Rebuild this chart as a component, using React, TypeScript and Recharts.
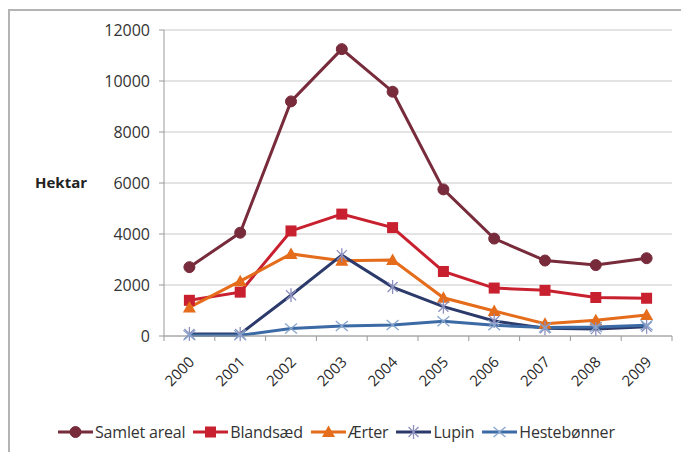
import React from 'react';
import {
  LineChart,
  Line,
  XAxis,
  YAxis,
  CartesianGrid,
  Legend,
} from 'recharts';

const years = ['2000', '2001', '2002', '2003', '2004', '2005', '2006', '2007', '2008', '2009'];
const samletAreal = [2700, 4050, 9200, 11250, 9580, 5750, 3820, 2960, 2780, 3050];
const blandsaed = [1400, 1720, 4120, 4780, 4250, 2530, 1880, 1790, 1510, 1480];
const aerter = [1120, 2150, 3220, 2950, 2980, 1500, 980, 480, 620, 820];
const lupin = [80, 80, 1600, 3170, 1920, 1150, 590, 300, 270, 360];
const hestebonner = [30, 30, 290, 390, 430, 580, 420, 330, 350, 420];
const yTicks = [0, 2000, 4000, 6000, 8000, 10000, 12000];

const series = [
  { key: 'samlet', name: 'Samlet areal', values: samletAreal, color: '#772b3b', shape: 'circle', markColor: '#772b3b' },
  { key: 'bland', name: 'Blandsæd', values: blandsaed, color: '#c8202f', shape: 'square', markColor: '#c8202f' },
  { key: 'aerter', name: 'Ærter', values: aerter, color: '#e46c1a', shape: 'triangle', markColor: '#e46c1a' },
  { key: 'lupin', name: 'Lupin', values: lupin, color: '#2b3a6b', shape: 'star', markColor: '#8c90bf' },
  { key: 'heste', name: 'Hestebønner', values: hestebonner, color: '#3b6aa5', shape: 'cross', markColor: '#86a4cc' },
];

const data = years.map((year, i) => {
  const row: any = { year };
  series.forEach((s) => (row[s.key] = s.values[i]));
  return row;
});

const FONT = '"Open Sans", sans-serif';

const Marker = ({ shape, cx, cy, color }: any) => {
  if (shape === 'circle') return <circle cx={cx} cy={cy} r={5.5} fill={color} stroke={color} />;
  if (shape === 'square') return <rect x={cx - 5.5} y={cy - 5.5} width={11} height={11} fill={color} />;
  if (shape === 'triangle')
    return <path d={`M${cx},${cy - 6.5} L${cx + 6.5},${cy + 5} L${cx - 6.5},${cy + 5} Z`} fill={color} />;
  if (shape === 'star')
    return (
      <g stroke={color} strokeWidth={1.3}>
        <line x1={cx - 5} y1={cy - 5} x2={cx + 5} y2={cy + 5} />
        <line x1={cx - 5} y1={cy + 5} x2={cx + 5} y2={cy - 5} />
        <line x1={cx} y1={cy - 7} x2={cx} y2={cy + 7} />
      </g>
    );
  return (
    <g stroke={color} strokeWidth={1.3}>
      <line x1={cx - 6} y1={cy - 5} x2={cx + 6} y2={cy + 5} />
      <line x1={cx - 6} y1={cy + 5} x2={cx + 6} y2={cy - 5} />
    </g>
  );
};

const YearTick = ({ x, y, payload, index }: any) => {
  const off = payload.offset || 0;
  const last = index === years.length - 1;
  return (
    <g>
      <line x1={x - off} x2={x - off} y1={y} y2={y + 5} stroke="#9a9a9a" />
      {last && <line x1={x + off} x2={x + off} y1={y} y2={y + 5} stroke="#9a9a9a" />}
      <text
        x={x + 6}
        y={y + 27}
        transform={`rotate(-45, ${x + 6}, ${y + 27})`}
        textAnchor="end"
        fontSize={15}
        fontFamily={FONT}
        fill="#2a2a2a"
      >
        {payload.value}
      </text>
    </g>
  );
};

const renderLegend = () => (
  <div
    style={{
      display: 'flex',
      alignItems: 'center',
      paddingLeft: 58,
      paddingTop: 5,
      fontFamily: FONT,
      fontSize: 16,
      letterSpacing: -0.2,
      color: '#333',
    }}
  >
    {series.map((s) => (
      <div key={s.key} style={{ display: 'flex', alignItems: 'center', marginRight: 8 }}>
        <svg width={35} height={16}>
          <line x1={0} x2={35} y1={8} y2={8} stroke={s.color} strokeWidth={3} />
          <Marker shape={s.shape} cx={17.5} cy={8} color={s.markColor} />
        </svg>
        <span style={{ marginLeft: 2 }}>{s.name}</span>
      </div>
    ))}
  </div>
);

export default function App() {
  return (
    <div style={{ position: 'absolute', left: 0, top: 0, width: 681, height: 452, background: '#fff', overflow: 'hidden' }}>
      <div
        style={{
          position: 'absolute',
          left: 8,
          top: 9,
          width: 700,
          height: 470,
          borderTop: '2px solid #b4b4b4',
          borderLeft: '2px solid #b4b4b4',
        }}
      />
      <LineChart width={681} height={452} data={data} margin={{ top: 30, right: 9, left: 0, bottom: 0 }}>
        <CartesianGrid vertical={false} stroke="#c8c8c8" />
        <XAxis
          dataKey="year"
          scale="band"
          height={80}
          stroke="#9a9a9a"
          tickLine={false}
          tickSize={0}
          tickMargin={0}
          interval={0}
          tick={<YearTick />}
        />
        <YAxis
          width={164}
          domain={[0, 12000]}
          ticks={yTicks}
          interval={0}
          stroke="#9a9a9a"
          tickSize={5}
          tickMargin={9}
          tick={{ fontSize: 16, fontFamily: FONT, fill: '#333' }}
          label={{
            value: 'Hektar',
            position: 'insideLeft',
            offset: 35,
            style: { fontSize: 15, fontWeight: 'bold', fontFamily: FONT, fill: '#222' },
          }}
        />
        <Legend verticalAlign="bottom" content={renderLegend} wrapperStyle={{ height: 36, left: 0, width: 681 }} />
        {series.map((s) => (
          <Line
            key={s.key}
            dataKey={s.key}
            name={s.name}
            stroke={s.color}
            strokeWidth={3}
            isAnimationActive={false}
            dot={(p: any) => <Marker key={`${s.key}-${p.index}`} shape={s.shape} cx={p.cx} cy={p.cy} color={s.markColor} />}
            activeDot={false}
          />
        ))}
      </LineChart>
    </div>
  );
}
